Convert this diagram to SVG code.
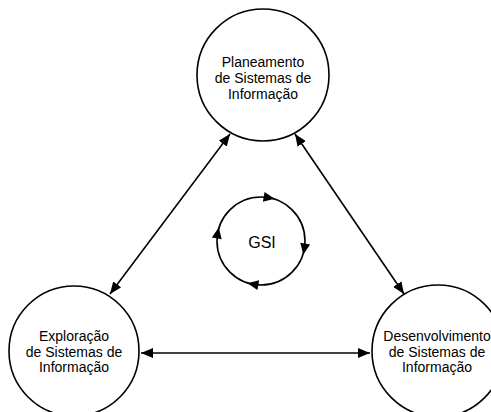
<svg xmlns="http://www.w3.org/2000/svg" width="491" height="412" viewBox="0 0 491 412">
<style>
.node{fill:#fff;stroke:#000;stroke-width:1.6}
.lbl{font-family:"Liberation Sans",Arial,sans-serif;font-size:14px;fill:#000;text-anchor:middle}
.con{stroke:#000;stroke-width:1.6;fill:none}
.cyc{fill:none;stroke:#000;stroke-width:1.6}
</style>
<defs>
<marker id="ah" viewBox="0 0 12 10" refX="12" refY="5" markerWidth="12" markerHeight="10" markerUnits="userSpaceOnUse" orient="auto-start-reverse">
<path d="M0,0 L12,5 L0,10 Z" fill="#000"/>
</marker>
<polygon id="tri" points="300,236 310,236 305,247" fill="#000"/>
</defs>
<rect width="491" height="412" fill="#fff"/>
<g id="connectors">
<line class="con" x1="230" y1="134" x2="110" y2="294" marker-start="url(#ah)" marker-end="url(#ah)"/>
<line class="con" x1="295" y1="134" x2="404" y2="294" marker-start="url(#ah)" marker-end="url(#ah)"/>
<line class="con" x1="141" y1="353" x2="370" y2="353" marker-start="url(#ah)" marker-end="url(#ah)"/>
</g>
<g id="planeamento">
<circle class="node" cx="263" cy="75" r="66"/>
<text class="lbl" x="263" y="67">Planeamento</text>
<text class="lbl" x="263" y="83">de Sistemas de</text>
<text class="lbl" x="263" y="99">Informação</text>
</g>
<g id="exploracao">
<circle class="node" cx="74" cy="351" r="65"/>
<text class="lbl" x="74" y="341">Exploração</text>
<text class="lbl" x="74" y="357">de Sistemas de</text>
<text class="lbl" x="74" y="372">Informação</text>
</g>
<g id="desenvolvimento">
<circle class="node" cx="438" cy="351" r="66"/>
<text class="lbl" x="437" y="341">Desenvolvimento</text>
<text class="lbl" x="437" y="357">de Sistemas de</text>
<text class="lbl" x="437" y="372">Informação</text>
</g>
<g id="gsi">
<circle class="cyc" cx="261" cy="241" r="44"/>
<use href="#tri" transform="rotate(-80 261 241)"/>
<use href="#tri" transform="rotate(10 261 241)"/>
<use href="#tri" transform="rotate(100 261 241)"/>
<use href="#tri" transform="rotate(190 261 241)"/>
<text class="lbl" x="262" y="248" style="font-size:16px">GSI</text>
</g>
</svg>
